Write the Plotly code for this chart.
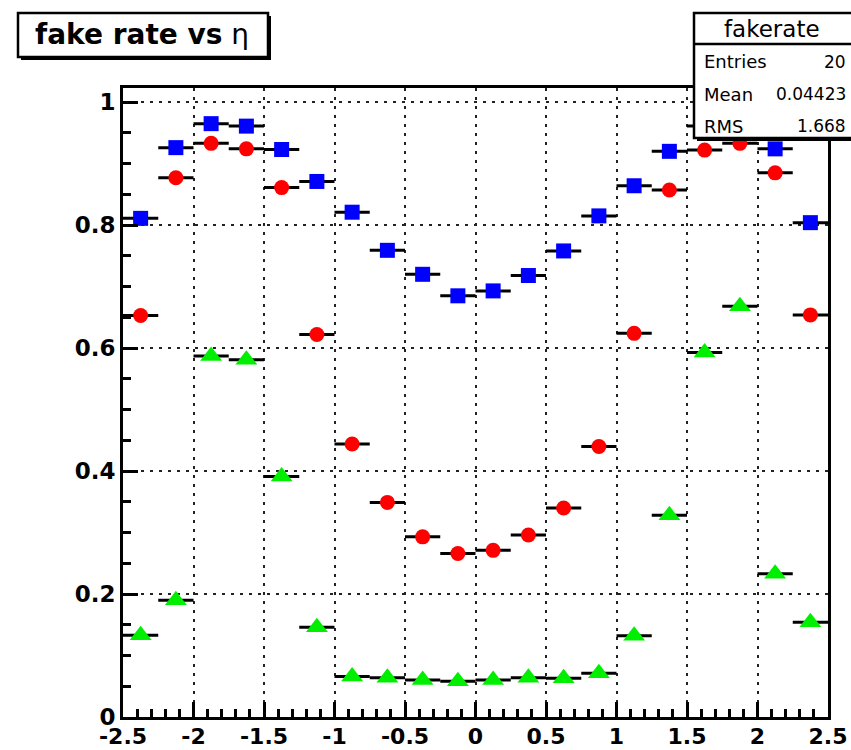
import plotly.graph_objects as go

# ---- data ----
eta_centers = [-2.375, -2.125, -1.875, -1.625, -1.375, -1.125, -0.875, -0.625, -0.375, -0.125,
               0.125, 0.375, 0.625, 0.875, 1.125, 1.375, 1.625, 1.875, 2.125, 2.375]
bin_half_width = [0.125] * 20

blue_vals = [0.811, 0.926, 0.965, 0.961, 0.923, 0.871, 0.821, 0.759, 0.720, 0.685,
             0.693, 0.718, 0.758, 0.815, 0.864, 0.920, 0.961, 0.965, 0.924, 0.804]
red_vals = [0.653, 0.877, 0.933, 0.924, 0.861, 0.622, 0.444, 0.349, 0.293, 0.266,
            0.271, 0.296, 0.340, 0.440, 0.624, 0.857, 0.922, 0.933, 0.885, 0.654]
green_vals = [0.133, 0.190, 0.587, 0.581, 0.391, 0.146, 0.066, 0.064, 0.060, 0.058,
              0.060, 0.064, 0.063, 0.071, 0.132, 0.328, 0.593, 0.668, 0.233, 0.154]

x_tickvals = [-2.5, -2, -1.5, -1, -0.5, 0, 0.5, 1, 1.5, 2, 2.5]
x_ticktext = ["-2.5", "-2", "-1.5", "-1", "-0.5", "0", "0.5", "1", "1.5", "2", "2.5"]
y_tickvals = [0, 0.2, 0.4, 0.6, 0.8, 1.0]
y_ticktext = ["0", "0.2", "0.4", "0.6", "0.8", "1"]

title_text = "<b>fake rate vs</b> η"
stats_title = "fakerate"
stats_labels = ["Entries", "Mean", "RMS"]
stats_values = ["20", "0.04423", "1.668"]

# ---- layout geometry (pixels) ----
W, H = 851, 750
L, R, T, B = 123, 828, 88, 717


def px(x):
    return (x - L) / (R - L)


def py(y):
    return (B - y) / (B - T)


fig = go.Figure()

series = [
    (blue_vals, "square", "#0000ff", 15),
    (red_vals, "circle", "#ff0000", 15),
    (green_vals, "triangle-up", "#00ee00", 19),
]
for vals, sym, col, sz in series:
    fig.add_trace(go.Scatter(
        x=eta_centers, y=vals, mode="markers",
        marker=dict(symbol=sym, color=col, size=sz, line=dict(width=0)),
        error_x=dict(type="data", array=bin_half_width, symmetric=True,
                     color="black", thickness=3, width=0),
        showlegend=False, hoverinfo="x+y",
    ))

tickfont = dict(family="DejaVu Sans", size=23, color="black", weight="bold")

fig.update_xaxes(
    range=[-2.5, 2.5], tickmode="array", tickvals=x_tickvals, ticktext=x_ticktext,
    showline=True, linewidth=3, linecolor="black", mirror=True,
    ticks="inside", ticklen=15, tickwidth=2.5, tickcolor="black",
    minor=dict(ticks="inside", ticklen=8, tickwidth=2.5, tickcolor="black", dtick=0.1,
               tick0=-2.5, showgrid=False),
    showgrid=True, gridcolor="#222222", gridwidth=2, griddash="3px,6px",
    zeroline=False, tickfont=dict(family="DejaVu Sans", size=22, color="black", weight="bold"),
    ticklabelstandoff=-2, automargin=False,
)
fig.update_yaxes(
    range=[0, 1.023], tickmode="array", tickvals=y_tickvals, ticktext=y_ticktext,
    showline=True, linewidth=3, linecolor="black", mirror=True,
    ticks="inside", ticklen=15, tickwidth=2.5, tickcolor="black",
    minor=dict(ticks="inside", ticklen=8, tickwidth=2.5, tickcolor="black", dtick=0.05,
               tick0=0, showgrid=False),
    showgrid=True, gridcolor="#222222", gridwidth=2, griddash="3px,6px",
    zeroline=False, tickfont=tickfont, ticklabelstandoff=0, automargin=False,
)

shapes = []
# title box with shadow
shapes.append(dict(type="rect", xref="paper", yref="paper",
                   x0=px(21), x1=px(271), y0=py(16), y1=py(60),
                   fillcolor="black", line=dict(width=0), layer="above"))
shapes.append(dict(type="rect", xref="paper", yref="paper",
                   x0=px(18), x1=px(268), y0=py(13), y1=py(57),
                   fillcolor="white", line=dict(color="black", width=2.5), layer="above"))
# stats box with shadow
shapes.append(dict(type="rect", xref="paper", yref="paper",
                   x0=px(697), x1=px(880), y0=py(16), y1=py(141),
                   fillcolor="black", line=dict(width=0), layer="above"))
shapes.append(dict(type="rect", xref="paper", yref="paper",
                   x0=px(694), x1=px(877), y0=py(13), y1=py(138),
                   fillcolor="white", line=dict(color="black", width=2.5), layer="above"))
shapes.append(dict(type="line", xref="paper", yref="paper",
                   x0=px(694), x1=px(877), y0=py(44), y1=py(44),
                   line=dict(color="black", width=2.5), layer="above"))

annotations = [
    dict(text=title_text, xref="paper", yref="paper", x=px(142), y=py(35),
         xanchor="center", yanchor="middle", showarrow=False,
         font=dict(family="DejaVu Sans", size=28, color="black")),
    dict(text=stats_title, xref="paper", yref="paper", x=px(772), y=py(29),
         xanchor="center", yanchor="middle", showarrow=False,
         font=dict(family="DejaVu Sans", size=23, color="black")),
]
row_y = [62, 94, 126]
for lab, val, yy in zip(stats_labels, stats_values, row_y):
    annotations.append(dict(text=lab, xref="paper", yref="paper", x=px(702), y=py(yy),
                            xanchor="left", yanchor="middle", showarrow=False,
                            font=dict(family="DejaVu Sans", size=18, color="black")))
    annotations.append(dict(text=val, xref="paper", yref="paper", x=px(848), y=py(yy),
                            xanchor="right", yanchor="middle", showarrow=False,
                            font=dict(family="DejaVu Sans", size=17, color="black")))

fig.update_layout(
    width=W, height=H,
    margin=dict(l=L, r=W - R, t=T, b=H - B, pad=0, autoexpand=False),
    paper_bgcolor="white", plot_bgcolor="white",
    shapes=shapes, annotations=annotations,
)

fig.write_html("out.html")
